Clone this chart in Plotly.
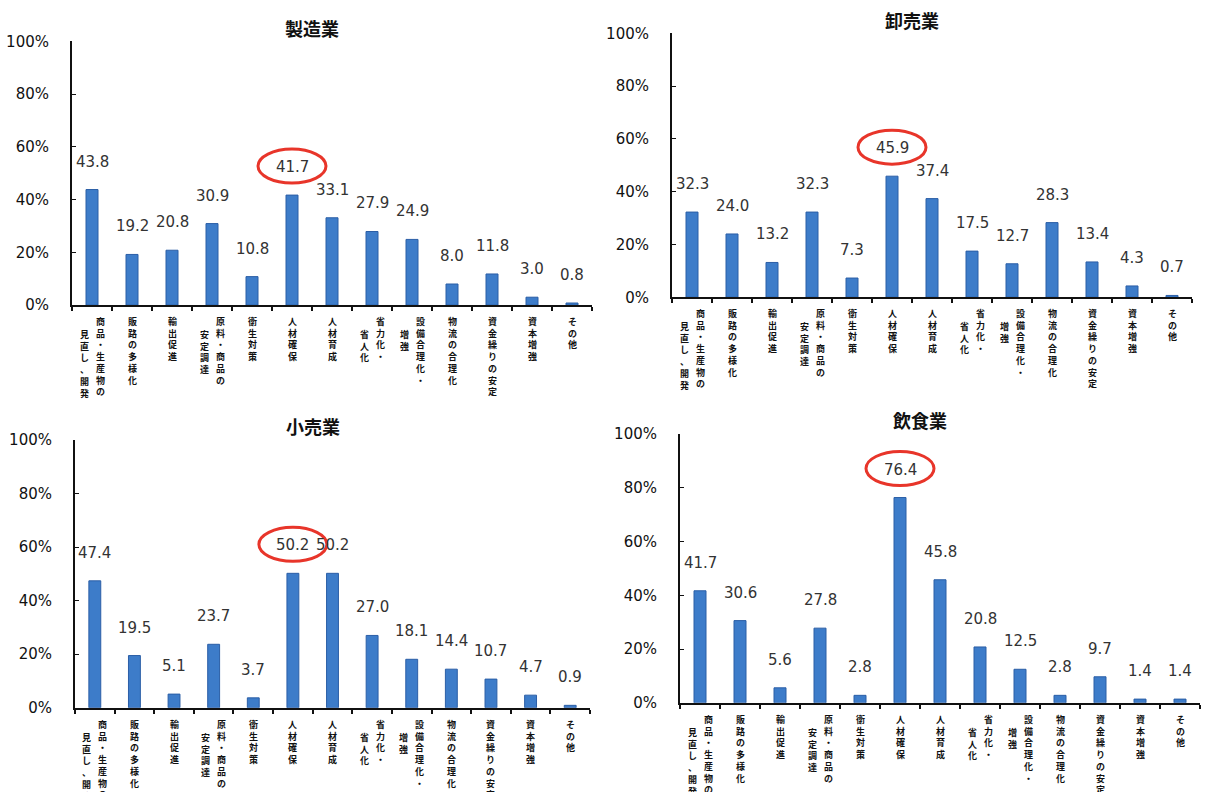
import plotly.graph_objects as go

# Vertical category labels: each tuple holds the columns of one label (right column first)
category_columns = [
    ("商品・生産物の", "見直し、開発"),
    ("販路の多様化",),
    ("輸出促進",),
    ("原料・商品の", "安定調達"),
    ("衛生対策",),
    ("人材確保",),
    ("人材育成",),
    ("省力化・", "省人化"),
    ("設備合理化・", "増強"),
    ("物流の合理化",),
    ("資金繰りの安定",),
    ("資本増強",),
    ("その他",),
]
categories = ["".join(c) for c in category_columns]

industries = ["製造業", "卸売業", "小売業", "飲食業"]
manufacturing = [43.8, 19.2, 20.8, 30.9, 10.8, 41.7, 33.1, 27.9, 24.9, 8.0, 11.8, 3.0, 0.8]
wholesale = [32.3, 24.0, 13.2, 32.3, 7.3, 45.9, 37.4, 17.5, 12.7, 28.3, 13.4, 4.3, 0.7]
retail = [47.4, 19.5, 5.1, 23.7, 3.7, 50.2, 50.2, 27.0, 18.1, 14.4, 10.7, 4.7, 0.9]
restaurant = [41.7, 30.6, 5.6, 27.8, 2.8, 76.4, 45.8, 20.8, 12.5, 2.8, 9.7, 1.4, 1.4]
series = [manufacturing, wholesale, retail, restaurant]
highlight = "人材確保"

y_ticks = [0, 20, 40, 60, 80, 100]
y_tick_text = [f"{v}%" for v in y_ticks]

W, H = 1224, 792
# panel boxes in pixels: (x_left, x_right, y_bottom(0%), y_top(100%))
panels = [
    (72, 592, 303, 33),
    (672, 1192, 295, 25),
    (75, 590, 715, 441),
    (680, 1200, 710, 435),
]

BAR = "#3d7cc9"
FONT_NUM = "DejaVu Sans"
FONT_JP = "Noto Sans CJK JP"

fig = go.Figure()
annotations = []
shapes = []
x_idx = list(range(len(categories)))

for i, (name, vals, box) in enumerate(zip(industries, series, panels)):
    xl, xr, yb, yt = box
    n = "" if i == 0 else str(i + 1)
    xa, ya = "xaxis" + n, "yaxis" + n
    xr_, yr_ = "x" + n, "y" + n
    fig.add_trace(go.Bar(
        x=x_idx, y=vals, xaxis=xr_, yaxis=yr_, width=0.3,
        marker=dict(color=BAR, line=dict(color="#2b5ea6", width=1)),
        showlegend=False, hoverinfo="skip",
    ))
    fig.layout[xa] = dict(
        domain=[xl / W, xr / W], anchor=yr_, range=[-0.5, len(categories) - 0.5],
        showgrid=False, zeroline=False, showline=True, linecolor="#111", linewidth=2,
        tickvals=[k - 0.5 for k in range(len(categories) + 1)], ticktext=[""] * (len(categories) + 1),
        ticks="outside", ticklen=4, tickwidth=2, tickcolor="#111", showticklabels=False,
    )
    fig.layout[ya] = dict(
        domain=[1 - yb / H, 1 - yt / H], anchor=xr_, range=[0, 100],
        showgrid=False, zeroline=False, showline=True, linecolor="#111", linewidth=2,
        tickvals=y_ticks, ticktext=y_tick_text, ticks="inside", ticklen=4, tickwidth=1,
        tickcolor="#111", ticklabelstandoff=18,
        tickfont=dict(family=FONT_NUM, size=15, color="#111"),
    )
    # panel title
    annotations.append(dict(
        xref="paper", yref="paper", x=(xl + xr) / 2 / W - 0.016, y=1 - (yt - 14) / H,
        text=f"<b>{name}</b>", showarrow=False, yanchor="middle", xanchor="center",
        font=dict(family=FONT_JP, size=18, color="#111"),
    ))
    for k, v in enumerate(vals):
        # value label above each bar
        annotations.append(dict(
            xref=xr_, yref=yr_, x=k, y=v, yshift=28, text=f"{v:.1f}", showarrow=False,
            font=dict(family=FONT_NUM, size=15, color="#333"),
        ))
        # vertical category label
        cols = category_columns[k]
        offsets = [0] if len(cols) == 1 else [8, -8]
        for c, (col, dx) in enumerate(zip(cols, offsets)):
            txt = "<br>".join(f"<b>{ch}</b>" for ch in col)
            annotations.append(dict(
                xref=xr_, yref=yr_, x=k, y=0, xshift=dx, yshift=-8 - 13 * c,
                text=txt, showarrow=False, xanchor="center", yanchor="top",
                font=dict(family=FONT_JP, size=9, color="#111"),
            ))
    h = categories.index(highlight)
    shapes.append(dict(
        type="circle", xref=xr_, yref=yr_, xsizemode="pixel", ysizemode="pixel",
        xanchor=h, yanchor=vals[h], x0=-34, x1=34, y0=12, y1=46,
        line=dict(color="#e8352a", width=3), fillcolor="rgba(0,0,0,0)",
    ))

fig.update_layout(
    width=W, height=H, margin=dict(l=0, r=0, t=0, b=0),
    paper_bgcolor="white", plot_bgcolor="white",
    annotations=annotations, shapes=shapes,
)
fig.write_html("out.html")
